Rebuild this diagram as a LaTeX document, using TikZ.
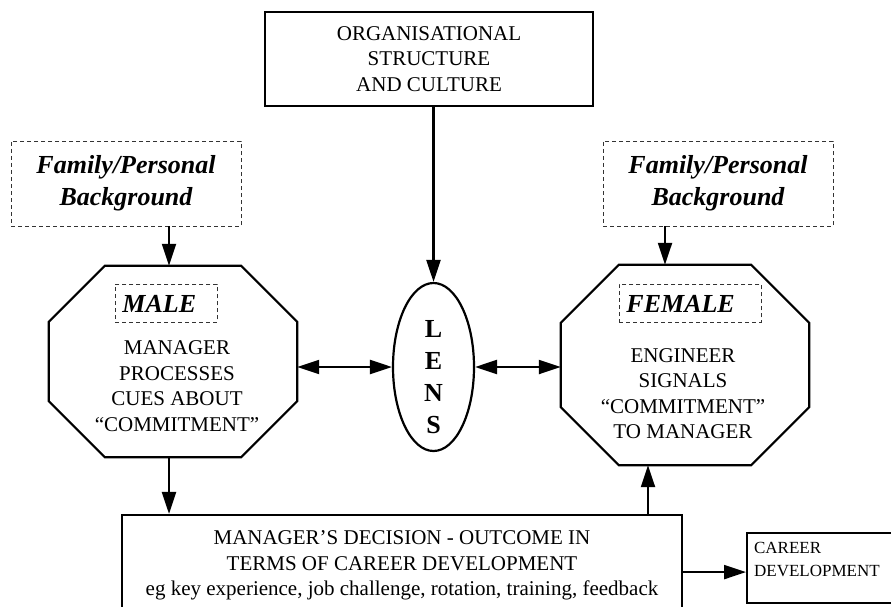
\documentclass[tikz,border=0pt]{standalone}
\usepackage{fontspec}
\setmainfont{Liberation Serif}
\usetikzlibrary{arrows.meta,shapes.geometric,calc}

% octagon outline round a rectangular node: #1 node name, #2 corner cut
\newcommand\octoutline[2]{%
  \draw[octline] ([xshift=#2]#1.north west) -- ([xshift=-#2]#1.north east)
    -- ([yshift=-#2]#1.north east) -- ([yshift=#2]#1.south east)
    -- ([xshift=-#2]#1.south east) -- ([xshift=#2]#1.south west)
    -- ([yshift=#2]#1.south west) -- ([yshift=-#2]#1.north west) -- cycle;}

\begin{document}
\begin{tikzpicture}[x=1pt,y=-1pt,
  solidbox/.style={draw, line width=2.2pt, inner sep=0pt, align=center,
    font=\fontsize{21}{25.5}\selectfont},
  dashbox/.style={draw=black!80, line width=0.9pt, dash pattern=on 4pt off 3pt, inner sep=0pt},
  fambox/.style={dashbox, minimum width=230pt, minimum height=85pt, align=center,
    font=\fontsize{26}{32}\selectfont\bfseries\itshape},
  tagbox/.style={dashbox, minimum height=38pt, align=left, inner xsep=7pt, anchor=north west,
    font=\fontsize{26}{32}\selectfont\bfseries\itshape},
  octagon/.style={inner sep=0pt, minimum width=248pt},
  octline/.style={line width=2.2pt, line join=miter},
  bodytext/.style={align=center, inner sep=0pt, font=\fontsize{21}{25.5}\selectfont},
  tip/.tip={Triangle[length=22pt,width=14pt]},
  arr/.style={line width=2.2pt, -tip},
  dblarr/.style={line width=2.2pt, tip-tip},
]
\useasboundingbox (0,0) rectangle (891,607);
\clip (0,0) rectangle (891,607);
\fill[white] (0,0) rectangle (891,607);

% top box
\node[solidbox, minimum width=328pt, minimum height=94pt] (org) at (429,59)
  {ORGANISATIONAL\\STRUCTURE\\AND CULTURE};

% background boxes
\node[fambox] (famL) at (126,183.5) {Family/Personal\\Background};
\node[fambox] (famR) at (718,183.5) {Family/Personal\\Background};

% octagons
\node[octagon, minimum height=191pt] (male) at (173,361.5) {};
\octoutline{male}{56pt}
\node[octagon, minimum height=200pt] (female) at (685,365) {};
\octoutline{female}{58pt}

\node[tagbox, text width=88pt] (maletag) at (115,284) {MALE};
\node[tagbox, text width=128pt] (femaletag) at (619,284) {FEMALE};

\node[bodytext] (maletext) at (177,386)
  {MANAGER\\PROCESSES\\CUES ABOUT\\“COMMITMENT”};
\node[bodytext] (femaletext) at (683,393.5)
  {ENGINEER\\SIGNALS\\“COMMITMENT”\\TO MANAGER};

% lens
\node[ellipse, draw, line width=2.2pt, minimum width=81pt, minimum height=168pt, inner sep=0pt]
  (lens) at (433.5,367) {};
\node[align=center, inner sep=0pt, font=\fontsize{26}{32}\selectfont\bfseries]
  (lensword) at (433.5,377.5) {L\\E\\N\\S};

% decision box
\node[solidbox, minimum width=560pt, minimum height=101pt] (decision) at (402,565.5)
  {MANAGER’S DECISION - OUTCOME IN\\TERMS OF CAREER DEVELOPMENT\\eg key experience, job challenge, rotation, training, feedback};

% career box
\node[draw, line width=2.2pt, anchor=north west, inner xsep=7pt, inner ysep=9pt,
  font=\fontsize{17}{23}\selectfont] (career) at (746,532)
  {\parbox[c][52pt][t]{150pt}{CAREER\\DEVELOPMENT}};

% connectors
\draw[arr] (org.south -| lens.north) -- (lens.north);
\draw[arr] ([xshift=43pt]famL.south) -- ([xshift=43pt]famL.south |- male.north);
\draw[arr] ([xshift=-53pt]famR.south) -- ([xshift=-53pt]famR.south |- female.north);
\draw[dblarr] (male.east |- lens.west) -- (lens.west);
\draw[dblarr] (lens.east) -- (lens.east -| female.west);
\draw[arr] ([xshift=-4pt]male.south) -- ([xshift=-4pt]male.south |- decision.north);
\draw[arr] ([xshift=-37pt]female.south |- decision.north) -- ([xshift=-37pt]female.south);
\draw[arr] ([yshift=-4pt]career.west -| decision.east) -- ([yshift=-4pt]career.west);
\end{tikzpicture}
\end{document}
